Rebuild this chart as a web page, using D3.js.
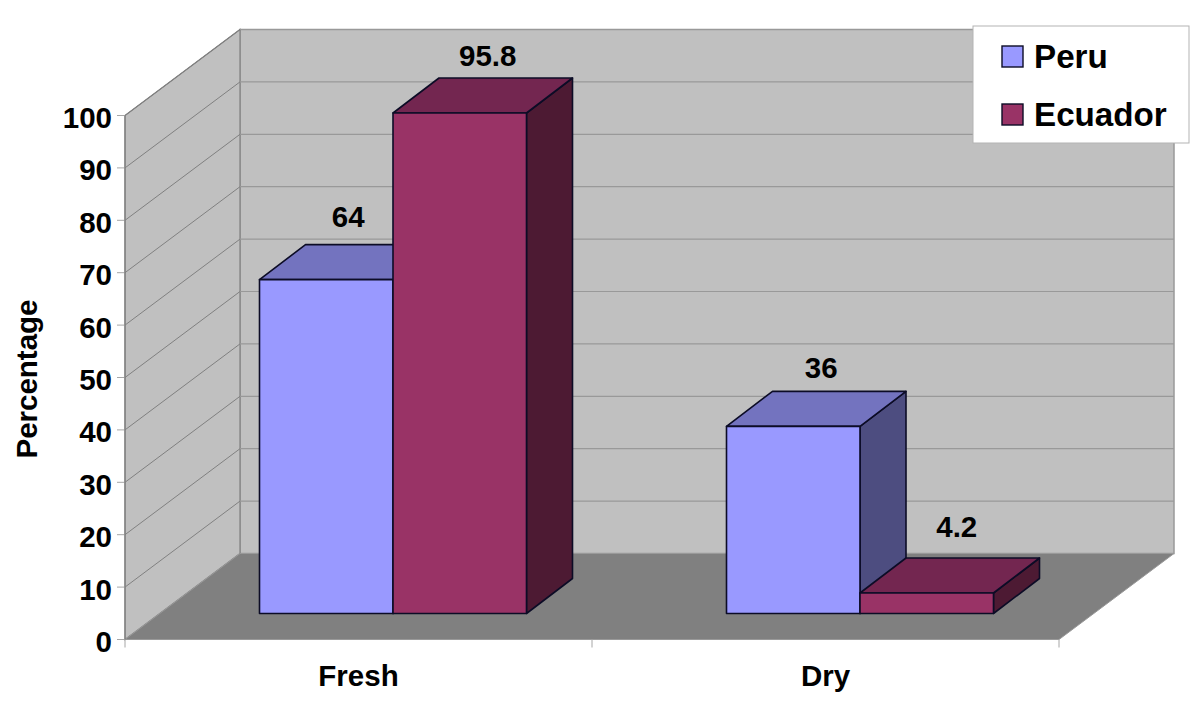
<!DOCTYPE html>
<html>
<head>
<meta charset="utf-8">
<script src="https://cdn.jsdelivr.net/npm/d3@7"></script>
<style>
html,body{margin:0;padding:0;background:#fff}
svg{display:block}
text{font-family:"Liberation Sans",Arial,sans-serif;font-weight:bold;fill:#000}
</style>
</head>
<body>
<svg id="chart" width="1200" height="704"></svg>
<script>
const categories = ["Fresh", "Dry"];
const seriesNames = ["Peru", "Ecuador"];
const peruValues = [64, 36];
const ecuadorValues = [95.8, 4.2];
const yTicks = [0, 10, 20, 30, 40, 50, 60, 70, 80, 90, 100];
const axisTitle = "Percentage";
const seriesFront = ["#9999ff", "#993366"];
const seriesTop = ["#7373bf", "#732650"];
const seriesSide = ["#4d4d80", "#4d1a33"];

const svg = d3.select("#chart");
const y = d3.scaleLinear().domain([0, 100]).range([639.5, 115.5]);
const x = d3.scaleBand().domain(categories).range([125, 1059]);
const wall = {dx: 115, dy: -86};
const barDepth = {dx: 46, dy: -35};
const barShift = {dx: 34.5, dy: -26};
const barWidth = 133.5;
const barTopInset = 1.5;
const poly = pts => pts.map(p => p.join(",")).join(" ");
const xL = 125, xR = 1059, y0 = y(0), yTop = y(100);
const wx = xL + wall.dx, wR = xR + wall.dx;

// back wall
svg.append("polygon").attr("points", poly([[wx, yTop + wall.dy], [wR, yTop + wall.dy], [wR, y0 + wall.dy], [wx, y0 + wall.dy]]))
  .attr("fill", "#c0c0c0").attr("stroke", "#999").attr("stroke-width", 1.5);
// side wall
svg.append("polygon").attr("points", poly([[xL, yTop], [wx, yTop + wall.dy], [wx, y0 + wall.dy], [xL, y0]]))
  .attr("fill", "#c0c0c0").attr("stroke", "#808080").attr("stroke-width", 1.2);
// gridlines
const gridPaths = svg.append("g");
yTicks.filter(t => t > 0).forEach(t => {
  gridPaths.append("line").attr("x1", xL).attr("y1", y(t)).attr("x2", wx).attr("y2", y(t) + wall.dy)
    .attr("stroke", "#808080").attr("stroke-width", 1);
  gridPaths.append("line").attr("x1", wx).attr("y1", y(t) + wall.dy).attr("x2", wR).attr("y2", y(t) + wall.dy)
    .attr("stroke", "#999").attr("stroke-width", 1.2);
});
// floor
svg.append("polygon").attr("points", poly([[xL, y0], [wx, y0 + wall.dy], [wR, y0 + wall.dy], [xR, y0]]))
  .attr("fill", "#808080").attr("stroke", "#999").attr("stroke-width", 1);

// axis ticks
const tickG = svg.append("g").attr("stroke", "#a6a6a6").attr("stroke-width", 1);
yTicks.forEach(t => tickG.append("line").attr("x1", xL - 8).attr("x2", xL).attr("y1", y(t)).attr("y2", y(t)));
[xL, xL + x.bandwidth(), xR].forEach(v => tickG.append("line").attr("x1", v).attr("x2", v).attr("y1", y0).attr("y2", y0 + 8));
svg.append("line").attr("x1", xL).attr("x2", xL).attr("y1", yTop).attr("y2", y0).attr("stroke", "#808080").attr("stroke-width", 1.2);

// tick labels
svg.append("g").selectAll("text").data(yTicks).join("text")
  .attr("x", 112).attr("y", d => y(d) + 12.5).attr("text-anchor", "end").attr("font-size", 29.5).text(d => d);
svg.append("g").selectAll("text").data(categories).join("text")
  .attr("x", d => x(d) + x.bandwidth() / 2).attr("y", 686).attr("text-anchor", "middle").attr("font-size", 29.5).text(d => d);
svg.append("text").attr("transform", "translate(37,379) rotate(-90)").attr("text-anchor", "middle").attr("font-size", 29.5).text(axisTitle);

// bars
const labelNudge = [[-1, 5], [5, 7]];
const labelBaseGap = [[17.5, 12.5], [13.5, 20.5]];
const base = y0 + barShift.dy;
const h = v => y0 - y(v) - barTopInset;
categories.forEach((c, i) => {
  const cx = x(c) + x.bandwidth() / 2 + barShift.dx;
  [peruValues[i], ecuadorValues[i]].forEach((v, s) => {
    const l = cx - barWidth + s * barWidth, r = l + barWidth;
    const t = base - h(v);
    const d = barDepth;
    const g = svg.append("g").attr("stroke", "#0c0c26").attr("stroke-width", 1.6).attr("stroke-linejoin", "round");
    g.append("polygon").attr("points", poly([[r, t], [r + d.dx, t + d.dy], [r + d.dx, base + d.dy], [r, base]])).attr("fill", seriesSide[s]);
    g.append("polygon").attr("points", poly([[l, t], [l + d.dx, t + d.dy], [r + d.dx, t + d.dy], [r, t]])).attr("fill", seriesTop[s]);
    g.append("rect").attr("x", l).attr("y", t).attr("width", barWidth).attr("height", base - t).attr("fill", seriesFront[s]);
  });
});
// value labels above the bars
categories.forEach((c, i) => {
  const cx = x(c) + x.bandwidth() / 2 + barShift.dx;
  [peruValues[i], ecuadorValues[i]].forEach((v, s) => {
    const l = cx - barWidth + s * barWidth;
    svg.append("text")
      .attr("x", l + barWidth / 2 + barDepth.dx / 2 + labelNudge[i][s])
      .attr("y", base - h(v) + barDepth.dy - labelBaseGap[i][s])
      .attr("text-anchor", "middle").attr("font-size", 29.5).text(v);
  });
});

// legend
const lg = svg.append("g");
lg.append("rect").attr("x", 973).attr("y", 26).attr("width", 216).attr("height", 117).attr("fill", "#fff").attr("stroke", "#b3b3b3").attr("stroke-width", 1);
seriesNames.forEach((n, s) => {
  const cy = 57 + s * 58;
  lg.append("rect").attr("x", 1002).attr("y", cy - 11).attr("width", 21).attr("height", 21)
    .attr("fill", seriesFront[s]).attr("stroke", "#0c0c26").attr("stroke-width", 1.4);
  lg.append("text").attr("x", 1034).attr("y", cy + 11).attr("font-size", 33.2).text(n);
});
</script>
</body>
</html>
